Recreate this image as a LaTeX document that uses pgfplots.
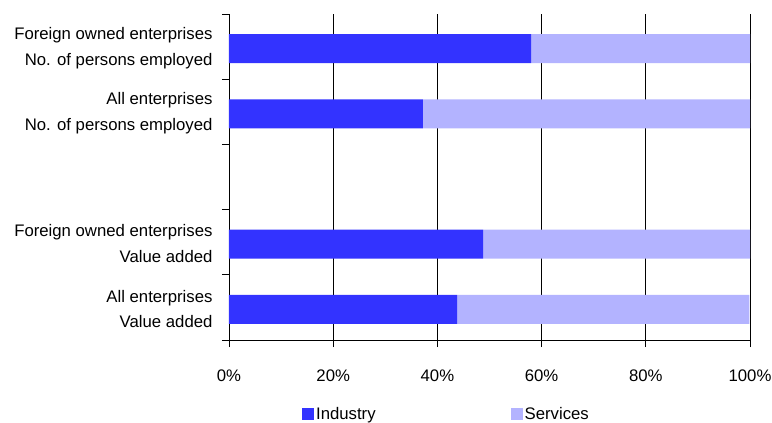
\documentclass[border=0pt]{standalone}
\usepackage{pgfplots}
\pgfplotsset{compat=1.18}
\usepackage{fontspec}
\setmainfont{Liberation Sans}
\definecolor{ind}{HTML}{3333FF}
\definecolor{serv}{HTML}{B3B3FF}
\begin{document}
\begin{tikzpicture}[font=\fontsize{16.8}{25.7}\selectfont]
\path[use as bounding box] (-229bp,-83bp) rectangle (543bp,340bp);
\begin{axis}[
  at={(0,0)}, anchor=south west,
  scale only axis, width=521bp, height=326bp,
  xbar stacked, bar width=29bp,
  xmin=0, xmax=100, ymin=-0.5, ymax=4.5, y dir=reverse,
  axis x line*=bottom, axis y line*=left,
  axis line style={-, black, line width=0.8pt},
  tick align=outside, major tick length=7bp,
  tick style={black, line width=0.8pt},
  xtick={0,20,...,100},
  xticklabel={\pgfmathprintnumber{\tick}\%},
  /pgf/number format/assume math mode=true,
  xticklabel style={yshift=-19bp},
  xmajorgrids, major x grid style={black, line width=0.8pt},
  ytick={-0.5,0.5,...,4.5}, yticklabels={},
  extra y ticks={0,1,3,4},
  extra y tick labels={{Foreign owned enterprises\\No. of persons employed},{All enterprises\\No. of persons employed},{Foreign owned enterprises\\Value added},{All enterprises\\Value added}},
  extra y tick style={tick style={draw=none}, yticklabel style={align=right, xshift=-6bp, yshift=-1.5bp}},
  legend style={at={(0.14,-0.20)}, anchor=north west, draw=none, fill=none,
    legend columns=2, inner sep=0pt,
    /tikz/every even column/.append style={column sep=133bp}},
  legend cell align=left,
]
\addplot[fill=ind, draw=none, bar shift=-2bp, legend image code/.code={\fill[ind] (0bp,-6bp) rectangle (12bp,6bp);}] coordinates {(58.0,0) (37.2,1) (48.8,3) (43.8,4)};
\addplot[fill=serv, draw=none, bar shift=-2bp, legend image code/.code={\fill[serv] (0bp,-6bp) rectangle (12bp,6bp);}] coordinates {(42.0,0) (62.8,1) (51.2,3) (56.1,4)};
\legend{Industry, Services}
\end{axis}
\end{tikzpicture}
\end{document}
